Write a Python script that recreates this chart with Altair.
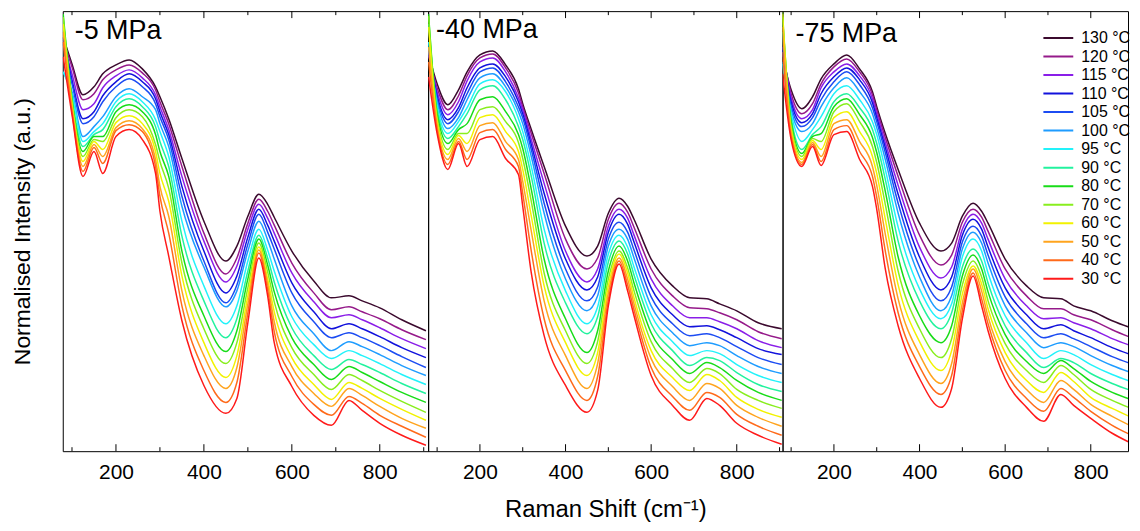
import altair as alt
import pandas as pd

TEMPS = ["130 °C", "120 °C", "115 °C", "110 °C", "105 °C", "100 °C", "95 °C",
         "90 °C", "80 °C", "70 °C", "60 °C", "50 °C", "40 °C", "30 °C"]
COLORS = ["#3b0a2e", "#951a8a", "#8a1ee8", "#1212dc", "#1c4cf2", "#1e9cff", "#22f2fa",
          "#22f29e", "#18dc18", "#88ee1e", "#f2f200", "#ffa41e", "#ff6a1a", "#ff1a1a"]

PANELS = ["-5 MPa", "-40 MPa", "-75 MPa"]

# Raman shift sampling (cm-1) for each panel
SHIFT_5 = [80, 100, 125, 150, 170, 200, 230, 260, 290, 300, 320, 350, 400, 450, 475,
           500, 525, 545, 560, 600, 650, 690, 730, 760, 800, 850, 905]
SHIFT_40 = [80, 100, 125, 150, 170, 200, 230, 260, 290, 300, 320, 350, 400, 450, 475,
            500, 525, 545, 560, 600, 650, 690, 730, 760, 800, 850, 905]
SHIFT_75 = [80, 100, 125, 150, 170, 200, 230, 260, 290, 300, 320, 350, 400, 450, 475,
            500, 525, 545, 560, 600, 650, 690, 730, 760, 800, 850, 900]

# Intensity (a.u., stacked) -- one row per Raman shift, one value per temperature (130 ... 30 °C)
I_5 = [
    [416, 413, 411, 415, 409, 381, 381, 433, 439, 436, 429, 421, 411, 396],
    [389, 386, 379, 373, 369, 361, 358, 356, 353, 351, 348, 345, 341, 338],
    [358, 353, 343, 334, 329, 316, 311, 306, 301, 296, 291, 286, 281, 276],
    [366, 359, 349, 341, 336, 326, 321, 318, 316, 313, 311, 308, 305, 301],
    [379, 373, 365, 357, 351, 336, 329, 323, 316, 311, 303, 296, 289, 279],
    [388, 383, 377, 371, 366, 356, 351, 346, 341, 335, 330, 325, 322, 316],
    [393, 388, 383, 379, 374, 364, 359, 354, 348, 343, 337, 332, 328, 323],
    [384, 380, 375, 371, 366, 356, 351, 346, 341, 336, 329, 324, 321, 313],
    [366, 363, 358, 354, 349, 343, 333, 326, 318, 308, 301, 293, 286, 279],
    [356, 351, 346, 341, 336, 329, 321, 311, 301, 291, 279, 266, 256, 241],
    [334, 329, 323, 318, 313, 306, 296, 286, 276, 264, 251, 236, 219, 196],
    [294, 286, 276, 266, 256, 246, 231, 216, 201, 189, 176, 161, 146, 131],
    [231, 219, 211, 201, 191, 185, 166, 151, 136, 123, 109, 96, 81, 66],
    [191, 178, 170, 159, 149, 145, 128, 114, 100, 88, 74, 63, 49, 38],
    [206, 194, 186, 176, 167, 161, 146, 133, 121, 109, 96, 84, 69, 53],
    [236, 229, 223, 215, 208, 201, 191, 181, 173, 164, 156, 148, 139, 129],
    [258, 253, 248, 243, 238, 231, 223, 217, 213, 209, 205, 202, 199, 194],
    [248, 241, 234, 227, 220, 212, 202, 194, 187, 180, 173, 168, 162, 156],
    [235, 227, 219, 211, 203, 193, 181, 170, 160, 150, 140, 130, 120, 109],
    [201, 189, 179, 169, 159, 146, 135, 124, 114, 104, 94, 85, 75, 65],
    [171, 159, 150, 140, 130, 118, 107, 96, 87, 77, 67, 58, 47, 36],
    [154, 142, 134, 123, 114, 101, 93, 82, 72, 62, 52, 45, 36, 26],
    [156, 145, 137, 128, 119, 110, 101, 92, 85, 77, 69, 63, 55, 51],
    [151, 140, 132, 123, 114, 105, 96, 87, 79, 71, 63, 56, 48, 41],
    [144, 133, 124, 115, 106, 97, 88, 79, 70, 61, 53, 45, 36, 28],
    [132, 122, 113, 104, 95, 86, 77, 68, 59, 50, 42, 33, 25, 16],
    [121, 112, 103, 94, 84, 76, 67, 58, 49, 39, 31, 23, 14, 6],
]

I_40 = [
    [399, 397, 401, 403, 401, 405, 411, 429, 439, 437, 426, 406, 391, 376],
    [369, 365, 361, 357, 354, 351, 347, 343, 339, 335, 331, 327, 323, 319],
    [348, 343, 338, 333, 329, 324, 319, 314, 309, 303, 298, 293, 288, 283],
    [363, 357, 351, 345, 341, 335, 331, 326, 323, 319, 317, 314, 311, 309],
    [381, 377, 372, 365, 359, 353, 345, 339, 329, 319, 309, 301, 293, 286],
    [398, 395, 391, 385, 381, 375, 369, 363, 353, 343, 335, 327, 320, 313],
    [402, 399, 395, 389, 385, 379, 373, 367, 356, 346, 338, 330, 323, 316],
    [388, 385, 381, 376, 371, 366, 361, 353, 341, 331, 321, 311, 303, 294],
    [364, 360, 355, 351, 346, 341, 334, 326, 318, 310, 301, 293, 286, 278],
    [349, 346, 343, 339, 335, 329, 321, 313, 304, 294, 283, 271, 259, 246],
    [323, 319, 313, 308, 303, 296, 286, 276, 263, 251, 236, 221, 201, 179],
    [286, 279, 269, 259, 249, 239, 223, 209, 193, 179, 166, 151, 133, 116],
    [226, 213, 201, 193, 183, 173, 161, 149, 133, 121, 109, 96, 81, 66],
    [196, 183, 170, 162, 151, 141, 128, 118, 99, 88, 76, 63, 51, 39],
    [206, 194, 183, 175, 165, 156, 145, 135, 121, 110, 99, 88, 75, 61],
    [239, 233, 226, 220, 213, 206, 198, 190, 181, 173, 166, 159, 152, 146],
    [254, 249, 243, 238, 230, 223, 217, 211, 206, 201, 198, 194, 191, 188],
    [246, 240, 234, 228, 220, 213, 205, 198, 191, 184, 179, 173, 167, 161],
    [233, 225, 217, 210, 202, 194, 185, 177, 169, 161, 154, 148, 142, 136],
    [193, 183, 173, 164, 155, 146, 137, 128, 119, 110, 101, 93, 84, 76],
    [166, 156, 146, 137, 128, 119, 110, 101, 92, 83, 74, 65, 55, 46],
    [154, 144, 134, 125, 116, 106, 96, 86, 78, 69, 61, 51, 41, 31],
    [153, 143, 134, 126, 118, 109, 101, 94, 89, 83, 77, 68, 59, 53],
    [148, 139, 130, 122, 114, 106, 98, 91, 84, 78, 71, 63, 54, 46],
    [141, 132, 123, 114, 105, 96, 87, 79, 71, 62, 54, 46, 37, 28],
    [129, 120, 111, 103, 94, 85, 76, 67, 59, 51, 42, 34, 25, 16],
    [123, 113, 104, 97, 87, 78, 69, 60, 51, 43, 34, 25, 16, 7],
]

I_75 = [
    [396, 401, 406, 403, 401, 391, 389, 421, 436, 441, 439, 426, 401, 379],
    [363, 359, 355, 351, 347, 343, 339, 335, 331, 327, 323, 320, 316, 313],
    [344, 339, 334, 330, 326, 321, 311, 303, 299, 296, 293, 290, 288, 286],
    [356, 349, 343, 339, 335, 329, 323, 318, 316, 314, 312, 310, 308, 306],
    [374, 369, 365, 359, 353, 346, 336, 326, 319, 311, 303, 296, 291, 287],
    [389, 386, 381, 376, 371, 365, 359, 351, 346, 341, 335, 329, 323, 318],
    [398, 394, 389, 385, 381, 375, 367, 359, 354, 349, 341, 333, 327, 321],
    [384, 381, 377, 373, 368, 361, 353, 345, 338, 331, 321, 311, 301, 293],
    [361, 358, 354, 350, 345, 339, 331, 323, 315, 306, 296, 286, 276, 266],
    [346, 343, 339, 335, 331, 325, 318, 309, 300, 290, 279, 267, 255, 243],
    [319, 315, 310, 305, 300, 293, 283, 273, 261, 248, 233, 218, 201, 183],
    [283, 276, 267, 258, 249, 239, 225, 211, 195, 181, 167, 153, 139, 126],
    [229, 217, 205, 195, 185, 175, 163, 151, 136, 123, 110, 97, 85, 73],
    [201, 187, 174, 162, 151, 141, 133, 123, 109, 94, 81, 68, 57, 44],
    [209, 197, 185, 175, 165, 156, 148, 139, 126, 113, 101, 88, 76, 63],
    [236, 230, 223, 217, 210, 203, 195, 185, 176, 167, 158, 149, 141, 133],
    [249, 243, 238, 233, 226, 220, 213, 203, 197, 191, 186, 183, 179, 176],
    [241, 235, 229, 223, 216, 209, 201, 191, 183, 175, 168, 161, 153, 146],
    [229, 221, 213, 205, 197, 189, 179, 169, 160, 151, 143, 135, 128, 121],
    [193, 183, 173, 164, 155, 146, 136, 126, 117, 108, 99, 90, 81, 73],
    [166, 156, 146, 137, 128, 119, 109, 99, 90, 81, 71, 62, 53, 44],
    [154, 143, 133, 123, 114, 104, 93, 84, 78, 69, 59, 49, 40, 30],
    [153, 143, 134, 127, 118, 109, 101, 93, 91, 86, 79, 71, 63, 57],
    [146, 137, 129, 121, 113, 105, 97, 89, 83, 77, 70, 62, 54, 46],
    [141, 132, 123, 114, 105, 96, 87, 78, 70, 62, 54, 47, 40, 33],
    [131, 122, 113, 104, 95, 86, 77, 68, 59, 51, 43, 35, 26, 18],
    [123, 113, 105, 96, 87, 78, 69, 60, 51, 42, 33, 24, 15, 7],
]

MAJOR_TICKS = [200, 400, 600, 800]
MINOR_TICKS = [100, 300, 500, 700, 900]

FONT = "Liberation Sans"
H = 442
Y_DOMAIN = [0, 442]


def build_frame(shifts, rows):
    recs = []
    for s, row in zip(shifts, rows):
        for t, v in zip(TEMPS, row):
            recs.append({"shift": s, "temp": t, "intensity": v})
    return pd.DataFrame(recs)


def panel(shifts, rows, label, width, x_domain, first, middle, last, lab_dx, lab_y):
    df = build_frame(shifts, rows)
    xscale = alt.Scale(domain=x_domain, nice=False, zero=False)
    x_axis = alt.Axis(values=MAJOR_TICKS, ticks=False, domain=False, grid=False,
                      labelFontSize=21, labelFont=FONT, labelColor="black",
                      labelPadding=10, labelFlush=False,
                      title="Raman Shift (cm⁻¹)" if middle else None,
                      titleFontSize=24, titleFont=FONT, titleFontWeight="normal",
                      titleColor="black", titlePadding=16)
    if first:
        y_axis = alt.Axis(labels=False, ticks=False, domain=False, grid=False,
                          title="Normalised Intensity (a.u.)", titleFontSize=23,
                          titleFont=FONT, titleFontWeight="normal", titleColor="black",
                          titlePadding=28)
    else:
        y_axis = None
    if last:
        legend = alt.Legend(title=None, orient="none", legendX=261, legendY=19,
                            symbolType="stroke", symbolSize=900, symbolStrokeWidth=2,
                            labelFontSize=16, labelFont=FONT, labelColor="black",
                            clipHeight=16, rowPadding=2.6, labelOffset=7, padding=0)
    else:
        legend = None

    lines = alt.Chart(df).mark_line(strokeWidth=1.5, interpolate="monotone", clip=True).encode(
        x=alt.X("shift:Q", scale=xscale, axis=x_axis),
        y=alt.Y("intensity:Q", scale=alt.Scale(domain=Y_DOMAIN, nice=False, zero=False), axis=y_axis),
        color=alt.Color("temp:N", scale=alt.Scale(domain=TEMPS, range=COLORS), legend=legend,
                        sort=TEMPS),
    )

    major = pd.DataFrame({"v": MAJOR_TICKS})
    minor = pd.DataFrame({"v": [m for m in MINOR_TICKS if x_domain[0] < m < x_domain[1]]})
    tick_layers = []
    for tdf, ln in ((major, 7), (minor, 4)):
        tick_layers.append(alt.Chart(tdf).mark_rule(color="black", strokeWidth=1).encode(
            x=alt.X("v:Q", scale=xscale), y=alt.value(H), y2=alt.value(H - ln)))
        tick_layers.append(alt.Chart(tdf).mark_rule(color="black", strokeWidth=1).encode(
            x=alt.X("v:Q", scale=xscale), y=alt.value(0), y2=alt.value(ln)))

    title = alt.Chart(pd.DataFrame({"label": [label]})).mark_text(
        align="left", baseline="alphabetic", fontSize=27, font=FONT, color="black"
    ).encode(x=alt.value(lab_dx), y=alt.value(lab_y), text="label:N")

    return alt.layer(lines, *tick_layers, title).properties(width=width, height=H)


p1 = panel(SHIFT_5, I_5, PANELS[0], 367, [79, 910], True, False, False, 12, 28)
p2 = panel(SHIFT_40, I_40, PANELS[1], 356, [79, 907], False, True, False, 8, 27)
p3 = panel(SHIFT_75, I_75, PANELS[2], 347, [80, 887], False, False, True, 13, 31)

chart = alt.hconcat(p1, p2, p3, spacing=0, bounds="flush").resolve_legend(
    color="independent"
).configure_view(
    stroke="black", strokeWidth=1
).configure_axis(grid=False).properties(
    padding={"left": 3, "top": 1, "right": 0, "bottom": 0}, background="white"
)

chart.save("out.html", embed_options={"renderer": "svg", "actions": False})
